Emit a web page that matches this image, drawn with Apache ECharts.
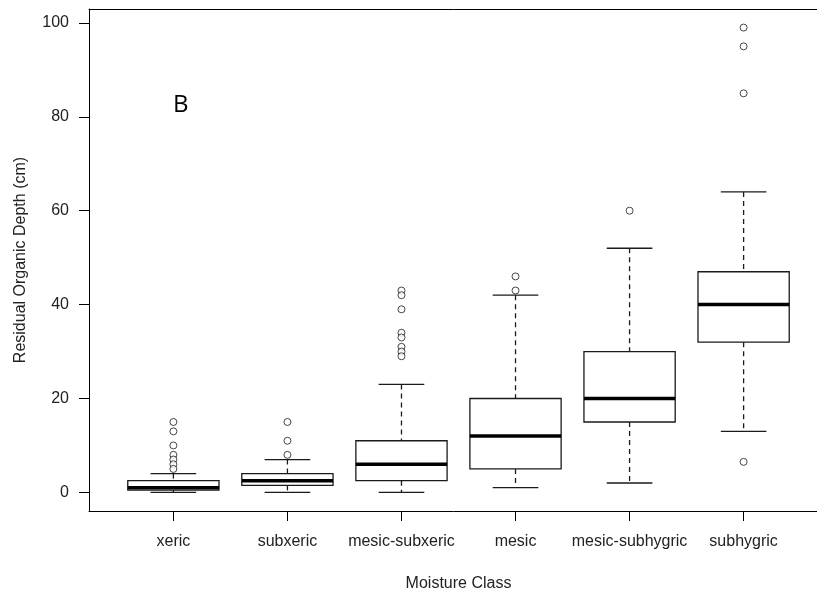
<!DOCTYPE html>
<html>
<head>
<meta charset="utf-8">
<script src="https://cdn.jsdelivr.net/npm/echarts@6/dist/echarts.min.js"></script>
<style>
html,body{margin:0;padding:0;background:#fff;}
#chart{width:817px;height:593px;}
</style>
</head>
<body>
<div id="chart"></div>
<script>
// ---- data ----
const categories = ['xeric', 'subxeric', 'mesic-subxeric', 'mesic', 'mesic-subhygric', 'subhygric'];
const lowerWhisker = [0, 0, 0, 1, 2, 13];
const q1 = [0.5, 1.5, 2.5, 5, 15, 32];
const median = [1, 2.5, 6, 12, 20, 40];
const q3 = [2.5, 4, 11, 20, 30, 47];
const upperWhisker = [4, 7, 23, 42, 52, 64];
const outliers = [
  [15, 13, 10, 8, 7, 6, 5],
  [15, 11, 8],
  [43, 42, 39, 34, 33, 31, 30, 29],
  [46, 43],
  [60],
  [99, 95, 85, 6.5]
];
const yTicks = [0, 20, 40, 60, 80, 100];
const xTicks = [1, 2, 3, 4, 5, 6];

// ---- build series data ----
const boxData = categories.map((c, i) => [i + 1, lowerWhisker[i], q1[i], median[i], q3[i], upperWhisker[i]]);
const outlierData = [];
outliers.forEach((arr, i) => arr.forEach(v => outlierData.push([i + 1, v])));

const lineColor = '#1a1a1a';

function renderBox(params, api) {
  const x = api.value(0);
  const lw = api.value(1), lo = api.value(2), md = api.value(3), hi = api.value(4), uw = api.value(5);
  const half = 0.4, capHalf = 0.2;
  const tl = api.coord([x - half, hi]);
  const br = api.coord([x + half, lo]);
  const mL = api.coord([x - half, md]);
  const mR = api.coord([x + half, md]);
  const cTop = api.coord([x, uw]);
  const cHi = api.coord([x, hi]);
  const cLo = api.coord([x, lo]);
  const cBot = api.coord([x, lw]);
  const capTL = api.coord([x - capHalf, uw]);
  const capTR = api.coord([x + capHalf, uw]);
  const capBL = api.coord([x - capHalf, lw]);
  const capBR = api.coord([x + capHalf, lw]);
  const solid = { stroke: lineColor, lineWidth: 1.3, fill: null };
  const dashed = { stroke: lineColor, lineWidth: 1.3, lineDash: [5, 4], fill: null };
  return {
    type: 'group',
    children: [
      { type: 'line', shape: { x1: cTop[0], y1: cTop[1], x2: cHi[0], y2: cHi[1] }, style: dashed },
      { type: 'line', shape: { x1: cLo[0], y1: cLo[1], x2: cBot[0], y2: cBot[1] }, style: dashed },
      { type: 'line', shape: { x1: capTL[0], y1: capTL[1], x2: capTR[0], y2: capTR[1] }, style: solid },
      { type: 'line', shape: { x1: capBL[0], y1: capBL[1], x2: capBR[0], y2: capBR[1] }, style: solid },
      { type: 'rect', shape: { x: tl[0], y: tl[1], width: br[0] - tl[0], height: br[1] - tl[1] },
        style: { stroke: lineColor, lineWidth: 1.3, fill: '#fff' } },
      { type: 'line', shape: { x1: mL[0], y1: mL[1], x2: mR[0], y2: mR[1] },
        style: { stroke: '#000', lineWidth: 3.5 } }
    ]
  };
}

const chart = echarts.init(document.getElementById('chart'), null, { renderer: 'canvas' });
const txt = '#222';
const font = 'Liberation Sans';
chart.setOption({
  animation: false,
  backgroundColor: '#fff',
  textStyle: { fontFamily: font },
  title: {
    text: 'B',
    left: 168, top: 88,
    textStyle: { fontFamily: 'Open Sans', fontSize: 24, fontWeight: 'normal', color: '#000' }
  },
  grid: {
    left: 89, top: 9, width: 739, height: 502,
    outerBoundsMode: 'none',
    containLabel: false,
    show: false
  },
  xAxis: [
    {
      type: 'value',
      position: 'bottom',
      min: 0.26, max: 6.74,
      axisLine: { show: true, onZero: false, lineStyle: { color: '#000', width: 1 } },
      splitLine: { show: false },
      axisTick: { show: true, inside: false, length: 10, customValues: xTicks, lineStyle: { color: '#000' } },
      axisLabel: {
        customValues: xTicks,
        formatter: v => categories[Math.round(v) - 1] || '',
        fontSize: 16, color: txt, margin: 23, fontFamily: font
      },
      name: 'Moisture Class',
      nameLocation: 'middle',
      nameGap: 65,
      nameTextStyle: { fontSize: 16, color: txt, fontFamily: font }
    },
    {
      type: 'value',
      position: 'top',
      min: 0.26, max: 6.74,
      axisLine: { show: true, onZero: false, lineStyle: { color: '#000', width: 1 } },
      axisTick: { show: false },
      axisLabel: { show: false },
      splitLine: { show: false }
    }
  ],
  yAxis: {
    type: 'value',
    position: 'left',
    min: -3.96, max: 102.96,
    axisLine: { show: true, onZero: false, lineStyle: { color: '#000', width: 1 } },
    splitLine: { show: false },
    axisTick: { show: true, inside: false, length: 10, customValues: yTicks, lineStyle: { color: '#000' } },
    axisLabel: {
      customValues: yTicks,
      fontSize: 16, color: txt, margin: 20, fontFamily: font
    },
    name: 'Residual Organic Depth (cm)',
    nameLocation: 'middle',
    nameGap: 60,
    nameRotate: 90,
    nameTextStyle: { fontSize: 16, color: txt, fontFamily: font }
  },
  series: [
    {
      type: 'custom',
      renderItem: renderBox,
      data: boxData,
      encode: { x: 0, y: [1, 2, 3, 4, 5] },
      z: 2
    },
    {
      type: 'scatter',
      data: outlierData,
      symbol: 'circle',
      symbolSize: 7,
      itemStyle: { color: '#fff', borderColor: lineColor, borderWidth: 1 },
      z: 3
    }
  ]
});
</script>
</body>
</html>
